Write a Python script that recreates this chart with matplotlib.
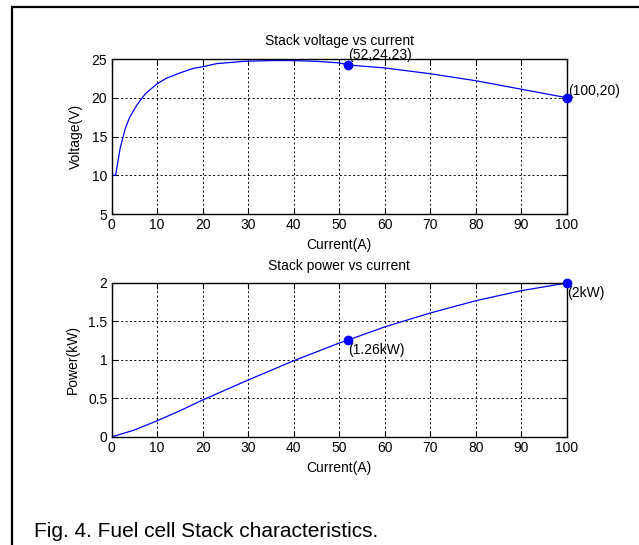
import matplotlib.pyplot as plt
from matplotlib.patches import Rectangle

# values
current_v = [0, 0.9, 1.9, 3, 4, 5.5, 7.4, 10, 12, 15, 18, 20, 23, 29, 35,
             40, 45, 50, 52, 60, 70, 80, 90, 100]
voltage = [10, 10, 13.5, 16.0, 17.5, 19.0, 20.5, 21.8, 22.5, 23.2, 23.8,
           24.0, 24.4, 24.7, 24.8, 24.8, 24.7, 24.5, 24.23, 23.85, 23.1,
           22.2, 21.1, 20.0]

current_p = [0, 5, 10, 15, 20, 25, 30, 40, 50, 52, 60, 65, 70, 80, 90, 100]
power = [0, 0.09, 0.21, 0.34, 0.48, 0.61, 0.74, 0.99, 1.22, 1.26, 1.43,
         1.52, 1.61, 1.77, 1.90, 2.0]

v_marks_x = [52, 100]
v_marks_y = [24.23, 20]
v_marks_text = ["(52,24.23)", "(100,20)"]

p_marks_x = [52, 100]
p_marks_y = [1.26, 2.0]
p_marks_text = ["(1.26kW)", "(2kW)"]

x_ticks = [0, 10, 20, 30, 40, 50, 60, 70, 80, 90, 100]
v_ticks = [5, 10, 15, 20, 25]
p_ticks = [0, 0.5, 1, 1.5, 2]
p_tick_labels = ["0", "0.5", "1", "1.5", "2"]

plt.rcParams["font.family"] = ["Liberation Sans", "DejaVu Sans"]
plt.rcParams["font.size"] = 10

BLUE = "#0000ff"


def style_axes(ax):
    ax.set_xlim(0, 100)
    ax.set_xticks(x_ticks)
    ax.grid(True, color="black", linestyle=(0, (2, 2.5)), linewidth=0.7)
    ax.tick_params(direction="in", top=True, right=True, length=4,
                   labelsize=10, pad=3)
    for spine in ax.spines.values():
        spine.set_linewidth(1.0)


def main() -> None:
    fig = plt.figure(figsize=(6.39, 5.45), dpi=100)

    # frame around the figure, cut off at the right and bottom
    fig.add_artist(Rectangle((12 / 639, -0.1), 1.2, 1.1 - 7 / 545,
                             transform=fig.transFigure, fill=False,
                             edgecolor="black", linewidth=1.6))

    ax1 = fig.add_axes([0.1745, 0.6073, 0.7128, 0.2844])
    ax1.plot(current_v, voltage, color=BLUE, linewidth=0.9)
    ax1.plot(v_marks_x, v_marks_y, "o", color=BLUE, markersize=6,
             clip_on=False, zorder=5)
    ax1.annotate(v_marks_text[0], (v_marks_x[0], v_marks_y[0]),
                 xytext=(0, 2), textcoords="offset points",
                 ha="left", va="bottom", fontsize=10, annotation_clip=False)
    ax1.annotate(v_marks_text[1], (v_marks_x[1], v_marks_y[1]),
                 xytext=(1, 0), textcoords="offset points",
                 ha="left", va="bottom", fontsize=10, annotation_clip=False)
    ax1.set_ylim(5, 25)
    ax1.set_yticks(v_ticks)
    style_axes(ax1)
    ax1.set_title("Stack voltage vs current", fontsize=10, pad=10)
    ax1.set_xlabel("Current(A)", fontsize=10, labelpad=4)
    ax1.set_ylabel("Voltage(V)", fontsize=10, labelpad=6)

    ax2 = fig.add_axes([0.1745, 0.1982, 0.7128, 0.2826])
    ax2.plot(current_p, power, color=BLUE, linewidth=0.9)
    ax2.plot(p_marks_x, p_marks_y, "o", color=BLUE, markersize=6,
             clip_on=False, zorder=5)
    for x, y, label in zip(p_marks_x, p_marks_y, p_marks_text):
        ax2.annotate(label, (x, y), xytext=(0, -2),
                     textcoords="offset points", ha="left", va="top",
                     fontsize=10, annotation_clip=False)
    ax2.set_ylim(0, 2)
    ax2.set_yticks(p_ticks)
    ax2.set_yticklabels(p_tick_labels)
    style_axes(ax2)
    ax2.set_title("Stack power vs current", fontsize=10, pad=9)
    ax2.set_xlabel("Current(A)", fontsize=10, labelpad=4)
    ax2.set_ylabel("Power(kW)", fontsize=10, labelpad=6)

    fig.text(34 / 639, 1 - 537 / 545, "Fig. 4. Fuel cell Stack characteristics.",
             fontsize=15, ha="left", va="baseline")

    fig.savefig("out.png", dpi=100)


if __name__ == "__main__":
    main()
